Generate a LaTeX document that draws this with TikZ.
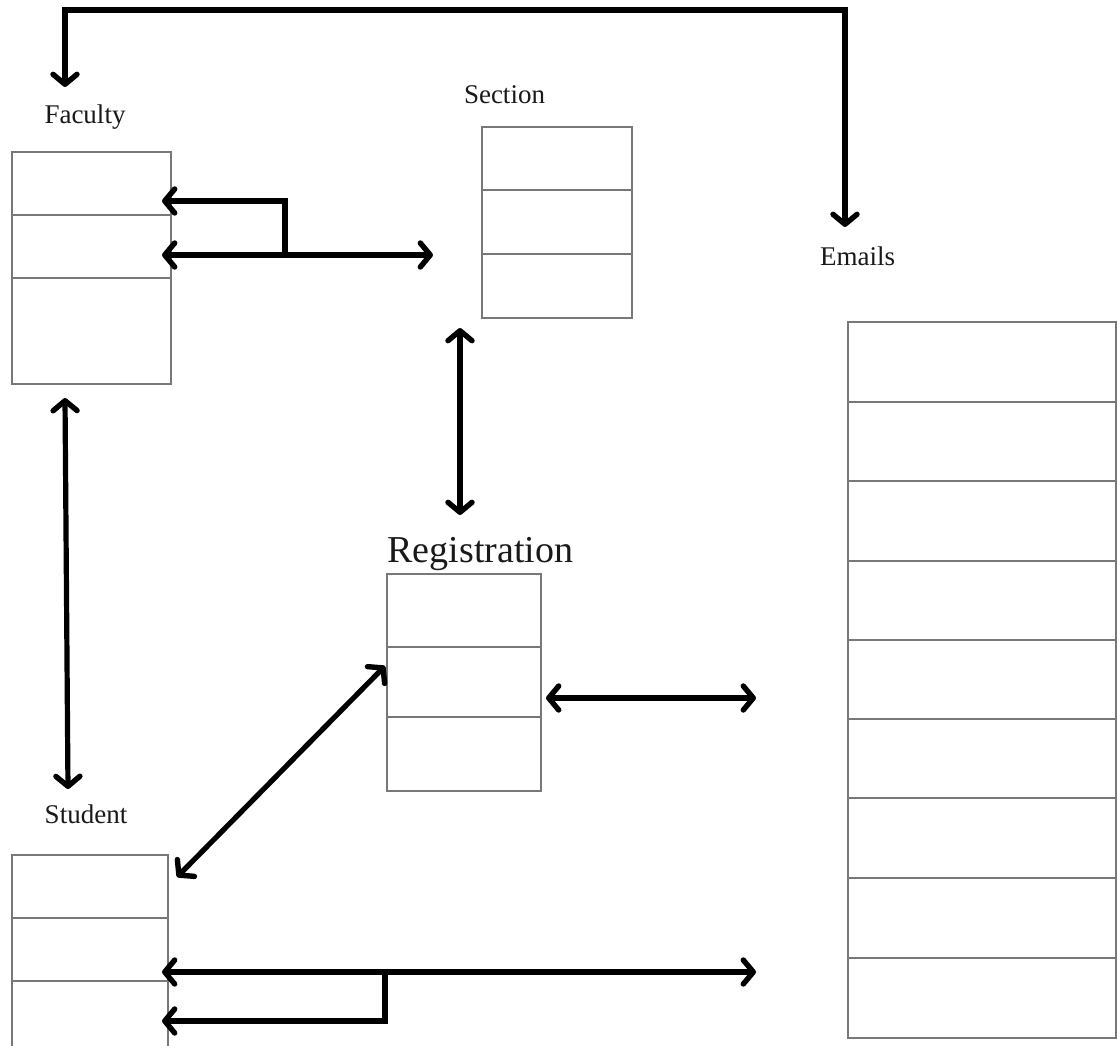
\documentclass[tikz,border=0pt]{standalone}
\usepackage{fontspec}
\setmainfont{Liberation Serif}
\usetikzlibrary{arrows.meta}
\definecolor{boxline}{RGB}{120,120,120}
\begin{document}
\begin{tikzpicture}[x=1pt,y=-1pt,
  tbl/.style={draw=boxline, line width=2pt, rectangle, anchor=north west, inner sep=0pt, outer sep=0pt},
  divider/.style={draw=boxline, line width=2pt},
  tip/.tip={Straight Barb[length=10pt,width=24pt,round,line width=5.4pt]},
  conn/.style={draw=black, line width=5.2pt, line join=miter, arrows={-tip}},
  both/.style={conn, arrows={tip-tip}},
  lbl/.style={anchor=base, inner sep=0pt, text=black!90, font=\fontsize{27}{32}\selectfont},
  biglbl/.style={anchor=base, inner sep=0pt, text=black!90, font=\fontsize{38}{44}\selectfont}]
\useasboundingbox[fill=white] (0,0) rectangle (1117,1045);

% tables
\node[tbl, minimum width=159pt, minimum height=232pt] (faculty) at (12,152) {};
\draw[divider] (12,215) -- (171,215) (12,278) -- (171,278);

\node[tbl, minimum width=150pt, minimum height=191pt] (section) at (482,127) {};
\draw[divider] (482,190) -- (632,190) (482,254) -- (632,254);

\node[tbl, minimum width=154pt, minimum height=217pt] (registration) at (387,574) {};
\draw[divider] (387,647) -- (541,647) (387,717) -- (541,717);

\node[tbl, minimum width=156pt, minimum height=200pt] (student) at (12,855) {};
\draw[divider] (12,918) -- (168,918) (12,981) -- (168,981);

\node[tbl, minimum width=268pt, minimum height=716pt] (emails) at (848,322) {};
\foreach \y in {402,481,561,640,719,798,878,958}
  \draw[divider] (848,\y) -- (1116,\y);

% titles
\node[lbl] (tFaculty) at (85,123) {Faculty};
\node[lbl] (tSection) at (504.5,103) {Section};
\node[lbl] (tEmails) at (857.5,265) {Emails};
\node[lbl] (tStudent) at (86,823) {Student};
\node[biglbl] (tRegistration) at (480.5,562) {Registration};

% connector end points
\coordinate (fTop) at (65,87);
\coordinate (eTop) at (845,227);
\coordinate (fRow1) at (162,201);
\coordinate (fRow2) at (162,255);
\coordinate (fJoin) at (285,255);
\coordinate (secIn) at (433,255);
\coordinate (secDown) at (460,328);
\coordinate (regUp) at (460,515);
\coordinate (fDown) at (65,398);
\coordinate (sUp) at (68,789);
\coordinate (regIn) at (385,666);
\coordinate (sIn) at (177,877);
\coordinate (regOut) at (546,698);
\coordinate (regFree) at (756,698);
\coordinate (sRow2) at (162,972);
\coordinate (sRow3) at (162,1021);
\coordinate (sJoin) at (385,972);
\coordinate (sFree) at (756,972);

% connectors
\draw[both] (fTop) -- (65,10) -- (845,10) -- (eTop);
\draw[both] (fRow2) -- (secIn);
\draw[conn] (fJoin) -- (285,201) -- (fRow1);
\draw[both] (secDown) -- (regUp);
\draw[both] (fDown) -- (sUp);
\draw[both] (regIn) -- (sIn);
\draw[both] (regOut) -- (regFree);
\draw[both] (sRow2) -- (sFree);
\draw[conn] (sJoin) -- (385,1021) -- (sRow3);
\end{tikzpicture}
\end{document}
